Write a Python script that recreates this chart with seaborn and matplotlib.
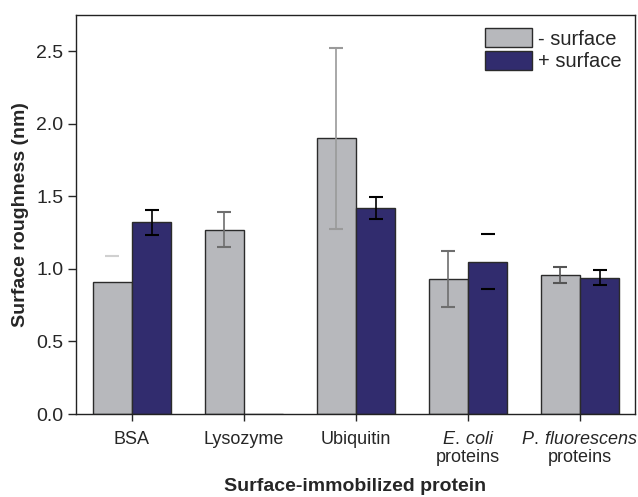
import matplotlib
matplotlib.use("Agg")
import matplotlib.pyplot as plt
import seaborn as sns
import pandas as pd

# data
proteins = ["BSA", "Lysozyme", "Ubiquitin", "E. coli proteins", "P. fluorescens proteins"]
tick_labels = ["BSA", "Lysozyme", "Ubiquitin",
               "$\\mathit{E.\\:coli}$\nproteins",
               "$\\mathit{P.\\:fluorescens}$\nproteins"]
minus_surface = [0.91, 1.27, 1.90, 0.93, 0.96]
minus_err = [0.18, 0.12, 0.625, 0.19, 0.055]
plus_surface = [1.32, 0.0, 1.42, 1.05, 0.94]
plus_err = [0.085, 0.0, 0.075, 0.19, 0.05]
series = ["- surface", "+ surface"]

sns.set_style("ticks")
plt.rcParams["font.family"] = ["Liberation Sans", "DejaVu Sans"]
plt.rcParams["mathtext.fontset"] = "custom"
plt.rcParams["mathtext.it"] = "Liberation Sans:italic"
plt.rcParams["mathtext.rm"] = "Liberation Sans"

df = pd.DataFrame({
    "protein": proteins * 2,
    "roughness": minus_surface + plus_surface,
    "condition": [series[0]] * len(proteins) + [series[1]] * len(proteins),
})

fig = plt.figure(figsize=(6.38, 4.97), dpi=100)
ax = fig.add_axes([0.119, 0.167, 0.876, 0.803])

sns.barplot(data=df, x="protein", y="roughness", hue="condition",
            palette=["#b7b8bc", "#312c6e"], saturation=1, width=0.7, gap=0,
            edgecolor="#2b2b2b", linewidth=1.0, errorbar=None, ax=ax)
for p in ax.patches:
    p.set_zorder(2)

# error bars placed at the bar centres seaborn computed
# (a few of the original bars only show their caps)
err_colors = [["#d0d0d0", "#6e6e6e", "#9a9a9a", "#6e6e6e", "#555555"],
              ["black", "black", "black", "black", "black"]]
err_lw = [[0, 1.2, 1.2, 1.2, 1.2], [1.2, 1.2, 1.2, 0, 1.2]]
err_z = [[1, 3, 3, 3, 3], [3, 3, 3, 3, 3]]
for ci, (cont, vals, errs) in enumerate(zip(ax.containers, [minus_surface, plus_surface],
                                           [minus_err, plus_err])):
    for bi, (bar, v, e) in enumerate(zip(cont, vals, errs)):
        if v == 0:
            continue
        xc = bar.get_x() + bar.get_width() / 2
        ax.errorbar(xc, v, yerr=e, fmt="none", ecolor=err_colors[ci][bi],
                    elinewidth=err_lw[ci][bi], capsize=5, capthick=1.5,
                    zorder=err_z[ci][bi])

ax.set_xlim(-0.5, 4.49)
ax.set_ylim(0, 2.75)
ax.set_yticks([0.0, 0.5, 1.0, 1.5, 2.0, 2.5])
ax.set_xticks(range(len(proteins)))
ax.set_xticklabels(tick_labels, fontsize=13, linespacing=1.1)
ax.tick_params(axis="y", labelsize=14, length=6, width=1, pad=3)
ax.tick_params(axis="x", length=5, width=1, pad=7)
for s in ax.spines.values():
    s.set_visible(True)
    s.set_linewidth(1.0)
    s.set_color("#222222")

ax.set_ylabel("Surface roughness (nm)", fontsize=14, fontweight="bold", labelpad=5)
ax.set_xlabel("Surface-immobilized protein", fontsize=14, fontweight="bold", labelpad=9)

leg = ax.legend(loc="upper right", fontsize=14.5, frameon=False,
                handlelength=2.33, handleheight=1.1, borderaxespad=0.35,
                labelspacing=0.1, handletextpad=0.3, borderpad=0.3)

fig.savefig("out.png", dpi=100)
